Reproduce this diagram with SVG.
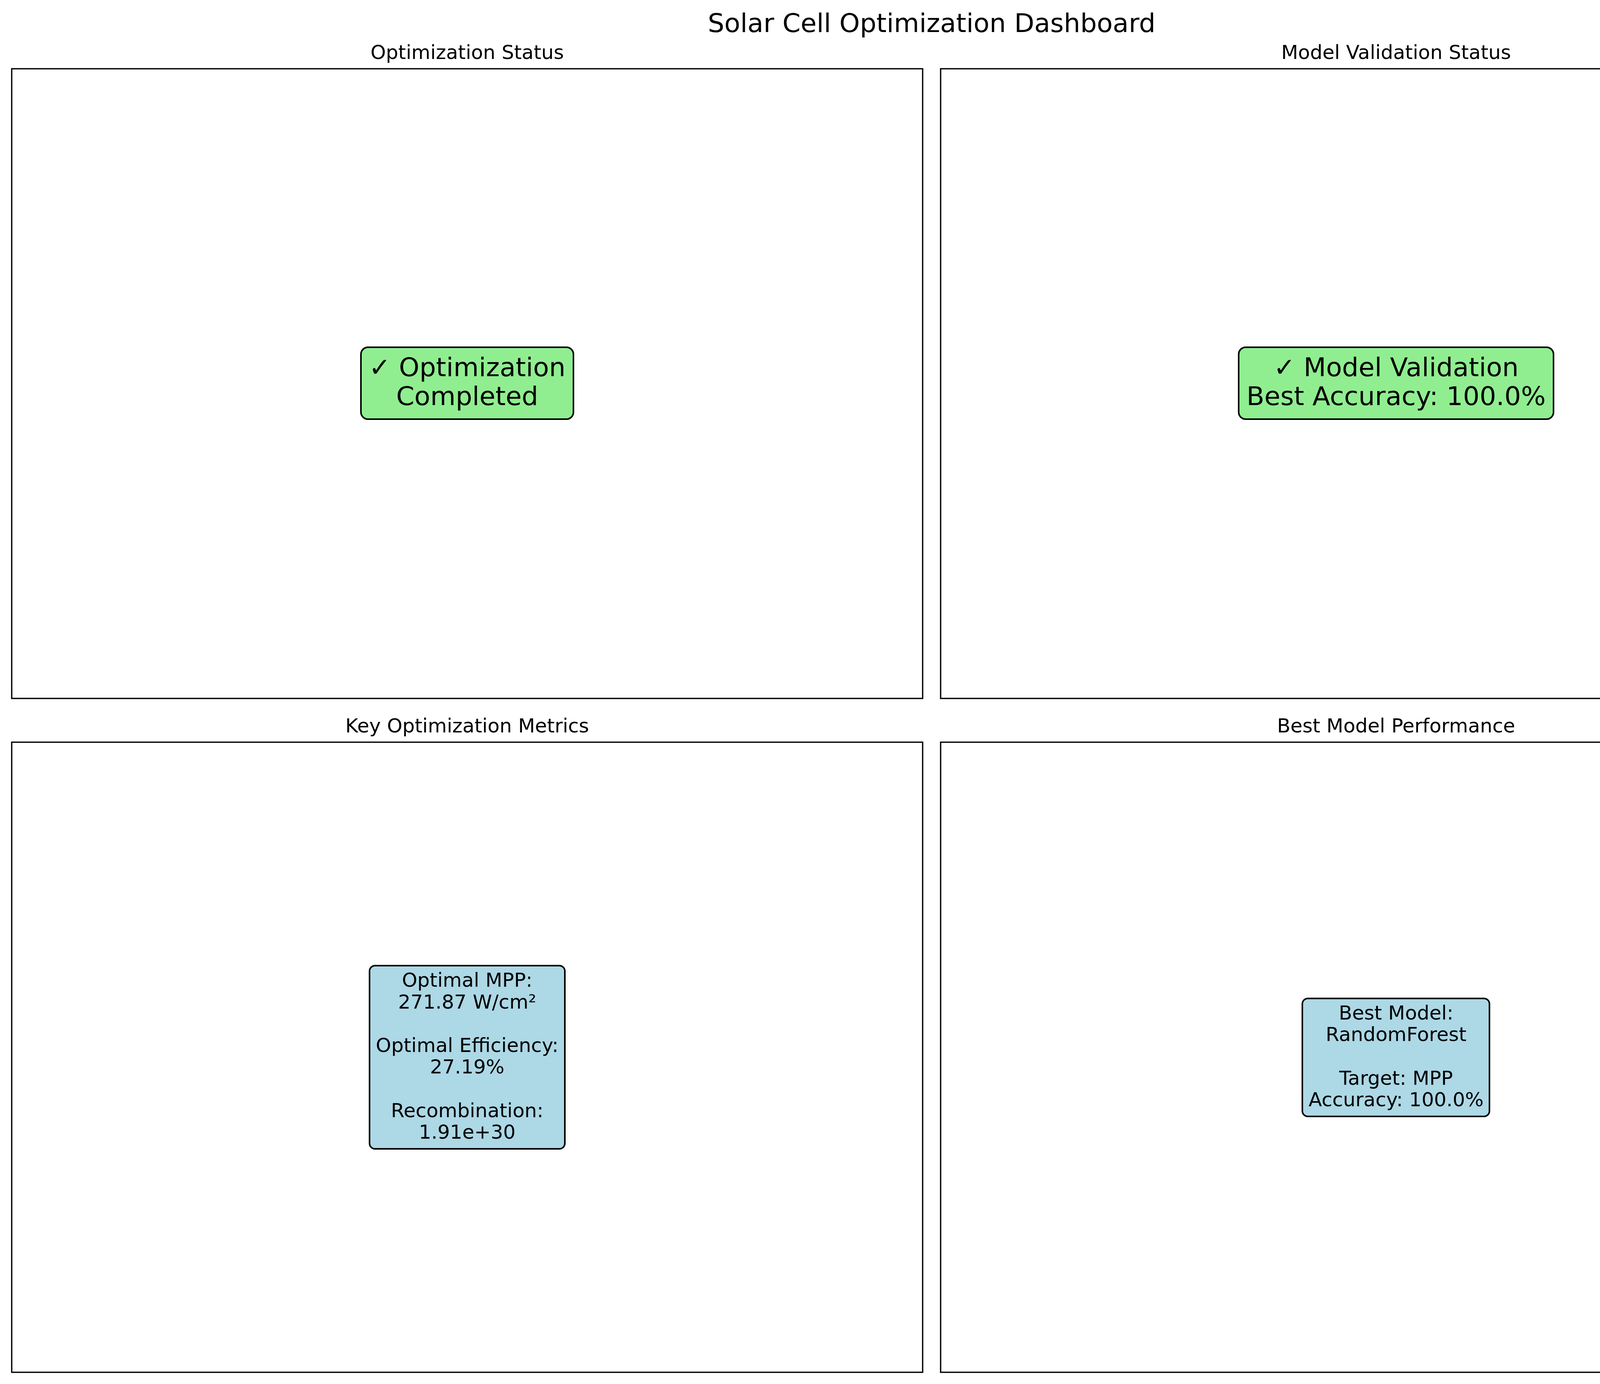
<svg xmlns="http://www.w3.org/2000/svg" width="4770" height="3543" viewBox="0 0 4770 3543">
<style>
text{font-family:"DejaVu Sans","Liberation Sans",sans-serif;fill:#000;text-anchor:middle}
.sup{font-size:66.67px}
.ttl{font-size:50px}
.big{font-size:66.67px}
.sm{font-size:50px}
.frame{fill:#fff;stroke:#000;stroke-width:3.33}
.green{fill:#90EE90;stroke:#000;stroke-width:4}
.blue{fill:#ADD8E6;stroke:#000;stroke-width:4}
</style>
<rect x="0" y="0" width="4770" height="3543" fill="#fff"/>
<text class="sup" x="2385" y="82">Solar Cell Optimization Dashboard</text>

<g id="panel-optimization-status">
<rect class="frame" x="30" y="176" width="2332" height="1612"/>
<text class="ttl" x="1196" y="151">Optimization Status</text>
</g>
<g id="panel-model-validation-status">
<rect class="frame" x="2408" y="176" width="2332" height="1612"/>
<text class="ttl" x="3574" y="151">Model Validation Status</text>
</g>
<g id="panel-key-metrics">
<rect class="frame" x="30" y="1900" width="2332" height="1613"/>
<text class="ttl" x="1196" y="1875">Key Optimization Metrics</text>
</g>
<g id="panel-best-model">
<rect class="frame" x="2408" y="1900" width="2332" height="1613"/>
<text class="ttl" x="3574" y="1875">Best Model Performance</text>
</g>

<g id="connectors"></g>

<g id="node-optimization-completed">
<rect class="green" x="924" y="889" width="544" height="184" rx="18" ry="18"/>
<text class="big" x="1196" y="963">✓ Optimization</text>
<text class="big" x="1196" y="1037">Completed</text>
</g>
<g id="node-model-validation">
<rect class="green" x="3171" y="889" width="806" height="184" rx="18" ry="18"/>
<text class="big" x="3574" y="963">✓ Model Validation</text>
<text class="big" x="3574" y="1037">Best Accuracy: 100.0%</text>
</g>
<g id="node-key-metrics">
<rect class="blue" x="946" y="2472" width="500" height="469" rx="14" ry="14"/>
<text class="sm" x="1196" y="2526">Optimal MPP:</text>
<text class="sm" x="1196" y="2582">271.87 W/cm²</text>
<text class="sm" x="1196" y="2693">Optimal Efficiency:</text>
<text class="sm" x="1196" y="2748">27.19%</text>
<text class="sm" x="1196" y="2860">Recombination:</text>
<text class="sm" x="1196" y="2915">1.91e+30</text>
</g>
<g id="node-best-model">
<rect class="blue" x="3334" y="2556" width="479" height="302" rx="14" ry="14"/>
<text class="sm" x="3574" y="2610">Best Model:</text>
<text class="sm" x="3574" y="2665">RandomForest</text>
<text class="sm" x="3574" y="2777">Target: MPP</text>
<text class="sm" x="3574" y="2832">Accuracy: 100.0%</text>
</g>
</svg>
